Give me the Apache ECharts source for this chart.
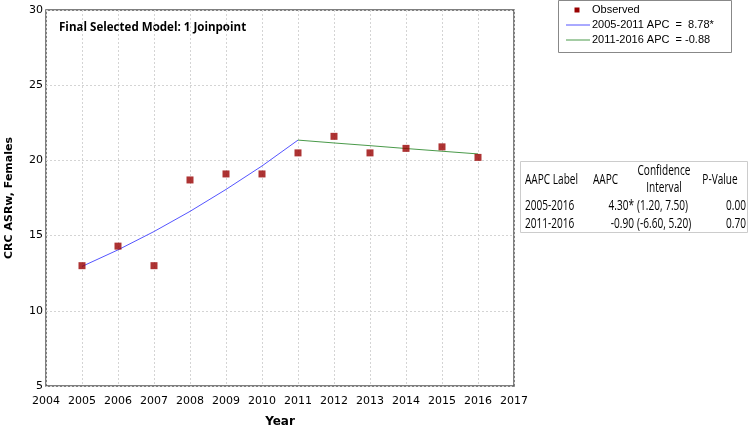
<!DOCTYPE html>
<html><head><meta charset="utf-8">
<script src="https://cdn.jsdelivr.net/npm/echarts@6/dist/echarts.min.js"></script>
<style>html,body{margin:0;padding:0;background:#fff}#c{width:750px;height:429px}</style>
</head><body><div id="c"></div>
<script>
const years = [2005,2006,2007,2008,2009,2010,2011,2012,2013,2014,2015,2016];
const observed = [13.0,14.3,13.0,18.7,19.1,19.1,20.5,21.6,20.5,20.8,20.9,20.2];
const seg1Years = [2005,2006,2007,2008,2009,2010,2011];
const seg1Fit = [12.95,14.05,15.27,16.61,18.07,19.63,21.35];
const seg2Years = [2011,2012,2013,2014,2015,2016];
const seg2Fit = [21.35,21.16,20.98,20.79,20.61,20.43];
const legendLabels = ['Observed','2005-2011 APC  =  8.78*','2011-2016 APC  = -0.88'];
const tableHeader = ['AAPC Label','AAPC','Confidence\nInterval','P-Value'];
const tableLabels = ['2005-2016','2011-2016'];
const tableAAPC = ['4.30*','-0.90'];
const tableCI = ['(1.20, 7.50)','(-6.60, 5.20)'];
const tablePValue = ['0.00','0.70'];
const yTicks = [5,10,15,20,25,30];

const chart = echarts.init(document.getElementById('c'));
const tf = '14px "Open Sans"';
const sx = 0.72;
function tt(x, y, text, align, extra) {
  return Object.assign({type:'text', x:x, y:y, scaleX:sx, style:{text:text, font:tf, fill:'#000', align:align||'left', verticalAlign:'middle'}}, extra||{});
}
const graphic = [
  {type:'text', x:59, y:27, scaleX:0.89, style:{text:'Final Selected Model: 1 Joinpoint', font:'bold 13px "Open Sans"', fill:'#000', verticalAlign:'middle'}},
  // legend
  {type:'rect', shape:{x:558.5,y:0.5,width:173,height:52}, style:{fill:'#fff',stroke:'#888',lineWidth:1}},
  {type:'rect', shape:{x:574.5,y:7.5,width:5,height:5}, style:{fill:'#990000'}},
  {type:'text', x:592, y:10, style:{text:legendLabels[0], font:'11px "Liberation Sans"', fill:'#000', verticalAlign:'middle'}},
  {type:'line', shape:{x1:566,y1:25,x2:590,y2:25}, style:{stroke:'#5555ff',lineWidth:1}},
  {type:'text', x:592, y:25, style:{text:legendLabels[1], font:'11px "Liberation Sans"', fill:'#000', verticalAlign:'middle'}},
  {type:'line', shape:{x1:566,y1:40,x2:590,y2:40}, style:{stroke:'#4a9a4a',lineWidth:1}},
  {type:'text', x:592, y:40, style:{text:legendLabels[2], font:'11px "Liberation Sans"', fill:'#000', verticalAlign:'middle'}},
  // table
  {type:'rect', shape:{x:520.5,y:161.5,width:227,height:71}, style:{fill:'#fff',stroke:'#ccc',lineWidth:1}},
  tt(525, 180, tableHeader[0]),
  tt(593, 180, tableHeader[1]),
  {type:'text', x:664, y:180, scaleX:sx, style:{text:tableHeader[2], font:tf, fill:'#000', align:'center', verticalAlign:'middle', lineHeight:17}},
  tt(720, 180, tableHeader[3], 'center')
];
const rowY = [206, 224];
for (let i = 0; i < tableLabels.length; i++) {
  graphic.push(tt(525, rowY[i], tableLabels[i]));
  graphic.push(tt(634, rowY[i], tableAAPC[i], 'right'));
  graphic.push(tt(637, rowY[i], tableCI[i]));
  graphic.push(tt(746, rowY[i], tablePValue[i], 'right'));
}

chart.setOption({
  animation:false,
  grid:{left:46, top:10, width:468, height:376, show:true, borderColor:'#555', borderWidth:1.5, backgroundColor:'#fff', containLabel:false, outerBoundsMode:'none'},
  xAxis:{type:'value', min:2004, max:2017, interval:1,
    name:'Year', nameLocation:'middle', nameGap:30,
    nameTextStyle:{fontFamily:'DejaVu Sans', fontWeight:'bold', fontSize:12, color:'#000'},
    axisLine:{show:false}, axisTick:{show:false},
    axisLabel:{fontFamily:'DejaVu Sans', fontSize:11, color:'#000', margin:10, formatter:v=>String(v)},
    splitLine:{show:true, lineStyle:{color:'#d4d4d4', type:[2,2], width:1}}},
  yAxis:{type:'value', min:5, max:30, interval:5,
    name:'CRC ASRw, Females', nameLocation:'middle', nameGap:31,
    nameTextStyle:{fontFamily:'DejaVu Sans', fontWeight:'bold', fontSize:11, color:'#000'},
    axisLine:{show:false}, axisTick:{show:false},
    axisLabel:{fontFamily:'DejaVu Sans', fontSize:11, color:'#000', margin:3, formatter:v=>yTicks.includes(v)?String(v):''},
    splitLine:{show:true, lineStyle:{color:'#d4d4d4', type:[2,2], width:1}}},
  series:[
    {type:'line', data:seg1Years.map((y,i)=>[y,seg1Fit[i]]), showSymbol:false, symbol:'none', lineStyle:{color:'#5555ff', width:1}, z:2},
    {type:'line', data:seg2Years.map((y,i)=>[y,seg2Fit[i]]), showSymbol:false, symbol:'none', lineStyle:{color:'#4a9a4a', width:1}, z:2},
    {type:'scatter', data:years.map((y,i)=>[y,observed[i]]), symbol:'rect', symbolSize:7, itemStyle:{color:'#990000'}, z:3}
  ],
  graphic:graphic
});
</script></body></html>
